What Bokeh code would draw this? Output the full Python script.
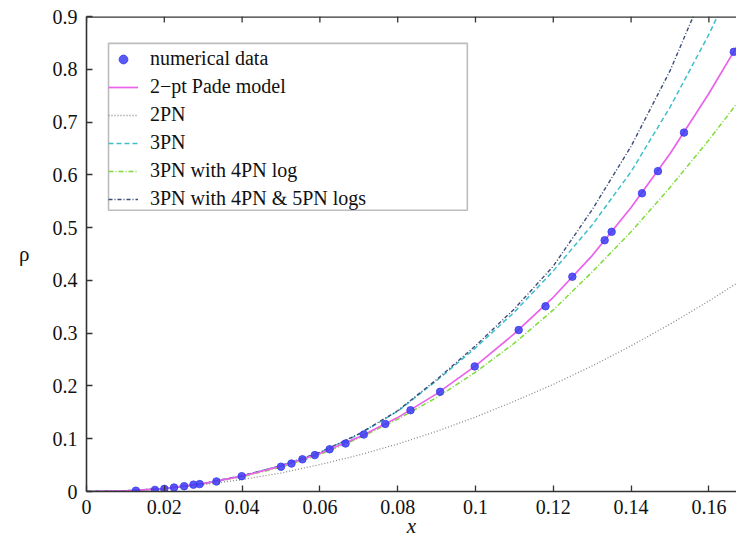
from bokeh.plotting import figure
from bokeh.models import (Range1d, FixedTicker, Legend, LegendItem,
                          BoxAnnotation, Span)
from bokeh.embed import file_html
from bokeh.resources import INLINE

# ---------------- data ----------------
x_ticks = [0, 0.02, 0.04, 0.06, 0.08, 0.10, 0.12, 0.14, 0.16]
x_tick_labels = ["0", "0.02", "0.04", "0.06", "0.08", "0.1", "0.12", "0.14", "0.16"]
y_ticks = [0, 0.1, 0.2, 0.3, 0.4, 0.5, 0.6, 0.7, 0.8, 0.9]
y_tick_labels = ["0", "0.1", "0.2", "0.3", "0.4", "0.5", "0.6", "0.7", "0.8", "0.9"]

data_x = [0.0127, 0.0176, 0.0200, 0.0225, 0.0251, 0.0275, 0.0291, 0.0334, 0.0399,
          0.0500, 0.0527, 0.0555, 0.0587, 0.0625, 0.0666, 0.0713, 0.0768, 0.0833,
          0.0909, 0.0998, 0.1111, 0.1180, 0.1249, 0.1332, 0.1350, 0.1428, 0.1469,
          0.1536, 0.1664]
data_rho = [0.0015, 0.003, 0.005, 0.0075, 0.010, 0.013, 0.014, 0.019, 0.029,
            0.047, 0.053, 0.061, 0.069, 0.080, 0.091, 0.108, 0.128, 0.154,
            0.189, 0.237, 0.306, 0.351, 0.407, 0.476, 0.492, 0.565, 0.607,
            0.680, 0.833]

pade_x = [0, 0.01, 0.02, 0.03, 0.04, 0.05, 0.06, 0.07, 0.08, 0.09, 0.10, 0.11,
          0.12, 0.13, 0.14, 0.15, 0.16, 0.1675]
pade_rho = [0, 0.001, 0.0055, 0.015, 0.029, 0.048, 0.072, 0.103, 0.140, 0.185,
            0.238, 0.299, 0.368, 0.447, 0.538, 0.640, 0.754, 0.847]

pn2_x = [0, 0.01, 0.02, 0.03, 0.04, 0.05, 0.06, 0.07, 0.08, 0.09, 0.10, 0.11,
         0.12, 0.13, 0.14, 0.15, 0.16, 0.1675]
pn2_rho = [0, 0.0014, 0.0056, 0.0127, 0.0226, 0.035, 0.051, 0.069, 0.090, 0.114,
           0.141, 0.171, 0.203, 0.238, 0.276, 0.317, 0.361, 0.396]

pn3_x = [0, 0.01, 0.02, 0.03, 0.04, 0.05, 0.06, 0.07, 0.08, 0.09, 0.10, 0.11,
         0.12, 0.13, 0.14, 0.15, 0.16, 0.165]
pn3_rho = [0, 0.0015, 0.0055, 0.015, 0.030, 0.049, 0.074, 0.108, 0.152, 0.210,
           0.272, 0.340, 0.418, 0.505, 0.606, 0.728, 0.866, 0.945]

pn3log_x = [0, 0.01, 0.02, 0.03, 0.04, 0.05, 0.06, 0.07, 0.08, 0.09, 0.10, 0.11,
            0.12, 0.13, 0.14, 0.15, 0.16, 0.1675]
pn3log_rho = [0, 0.0015, 0.005, 0.0145, 0.028, 0.046, 0.070, 0.101, 0.137, 0.178,
              0.226, 0.281, 0.344, 0.416, 0.492, 0.576, 0.666, 0.738]

pn3logs_x = [0, 0.01, 0.02, 0.03, 0.04, 0.05, 0.06, 0.07, 0.08, 0.09, 0.10, 0.11,
             0.12, 0.13, 0.14, 0.15, 0.158]
pn3logs_rho = [0, 0.0015, 0.0055, 0.015, 0.030, 0.049, 0.074, 0.109, 0.153, 0.212,
               0.276, 0.346, 0.427, 0.534, 0.654, 0.797, 0.935]

labels = ["numerical data", "2\u2212pt Pade model", "2PN", "3PN",
          "3PN with 4PN log", "3PN with 4PN & 5PN logs"]
x_title = "x"
y_title = "\u03c1"

# ---------------- figure ----------------
FONT = "Liberation Serif"
p = figure(width=736, height=540, output_backend="svg", toolbar_location=None,
           x_range=Range1d(0, 0.1671), y_range=Range1d(0, 0.9),
           min_border_left=86, min_border_right=0, min_border_top=16,
           min_border_bottom=49)
p.outline_line_color = None
p.grid.visible = False
p.background_fill_color = "white"
p.border_fill_color = "white"

def style_axis(ax):
    ax.axis_line_color = "#333333"
    ax.axis_line_width = 1.6
    ax.major_tick_line_color = "#333333"
    ax.major_tick_line_width = 1.3
    ax.major_tick_in = 6
    ax.major_tick_out = 0
    ax.minor_tick_line_color = None
    ax.major_label_text_font = FONT
    ax.major_label_text_font_size = "20px"
    ax.major_label_text_color = "#111111"
    ax.axis_label_text_font = FONT
    ax.axis_label_text_font_size = "21px"
    ax.axis_label_text_color = "#111111"

xa = p.xaxis[0]
ya = p.yaxis[0]
style_axis(xa)
style_axis(ya)
xa.ticker = FixedTicker(ticks=x_ticks)
xa.major_label_overrides = dict(zip(x_ticks, x_tick_labels))
ya.ticker = FixedTicker(ticks=y_ticks)
ya.major_label_overrides = dict(zip(y_ticks, y_tick_labels))
xa.axis_label = x_title
xa.axis_label_text_font_style = "italic"
xa.major_label_standoff = 8
xa.axis_label_standoff = -3
ya.axis_label = y_title
ya.axis_label_text_font_style = "normal"
ya.axis_label_orientation = "horizontal"
ya.axis_label_standoff = 20
ya.major_label_standoff = 9

# top border with inward ticks (mirror of the bottom axis)
p.add_layout(Span(location=0.9, dimension="width", line_color="#333333",
                  line_width=2.4))
tick_len = 6.0 / 528.0
p.segment(x0=x_ticks, x1=x_ticks, y0=[0.9] * len(x_ticks),
          y1=[0.9 - tick_len] * len(x_ticks), line_color="#333333",
          line_width=1.3)

# legend box (gnuplot style, wider than its entries)
p.add_layout(BoxAnnotation(left=0.00566, right=0.0979, bottom=0.533, top=0.849,
                           fill_color="white", fill_alpha=1.0,
                           line_color="#222222", line_width=1.6))

r_pn2 = p.line(pn2_x, pn2_rho, line_color="#8a8a8a", line_width=1.3,
               line_dash="1 2")
r_log = p.line(pn3log_x, pn3log_rho, line_color="#7fdc3a", line_width=1.5,
               line_dash="5 2 1 2")
r_pn3 = p.line(pn3_x, pn3_rho, line_color="#3fbfca", line_width=1.5,
               line_dash="5 3")
r_logs = p.line(pn3logs_x, pn3logs_rho, line_color="#3d4c7c", line_width=1.4,
                line_dash="4 2 1 2")
r_pade = p.line(pade_x, pade_rho, line_color="#ea62ea", line_width=1.7)
r_data = p.scatter(data_x, data_rho, size=7.5, fill_color="#3c3cf2",
                   line_color="#3c3cf2", alpha=0.85)

legend = Legend(items=[
    LegendItem(label=labels[0], renderers=[r_data]),
    LegendItem(label=labels[1], renderers=[r_pade]),
    LegendItem(label=labels[2], renderers=[r_pn2]),
    LegendItem(label=labels[3], renderers=[r_pn3]),
    LegendItem(label=labels[4], renderers=[r_log]),
    LegendItem(label=labels[5], renderers=[r_logs]),
], location=(22, 281))
legend.border_line_color = None
legend.background_fill_alpha = 0
legend.label_text_font = FONT
legend.label_text_font_size = "20px"
legend.label_text_color = "#111111"
legend.glyph_width = 30
legend.glyph_height = 22
legend.label_height = 22
legend.spacing = 5
legend.padding = 7
legend.margin = 0
legend.label_standoff = 12
p.add_layout(legend)

open("out.html", "w").write(file_html(p, INLINE))
